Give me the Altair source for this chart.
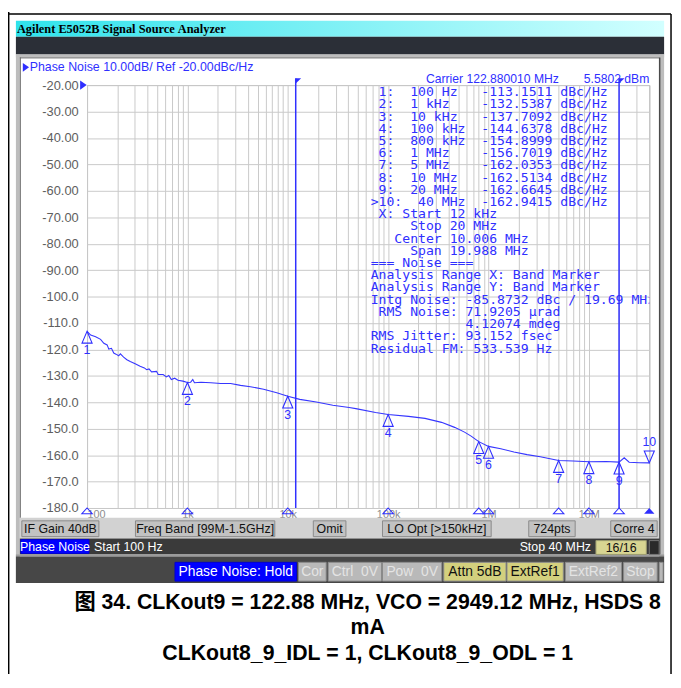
import altair as alt
import pandas as pd

# ---------------- data ----------------
trace_freq_hz = [100, 108.7, 121.8, 136.4, 147.0, 158.5, 164.7, 175.1, 184.5, 194.3,
                 206.6, 214.7, 231.4, 249.4, 269.3, 301.6, 337.9, 372.4, 392.5, 414.3,
                 439.4, 492.2, 511.6, 573.0, 617.5, 652.0, 691.6, 746.9, 805.0, 901.6,
                 1000, 1078, 1131, 1175, 1365, 1712, 2148, 2696, 3381, 4241,
                 5745, 7771, 10000, 13170, 19240, 28090, 40930, 47640, 74960, 100000,
                 159500, 232900, 340100, 459700, 576700, 671300, 800000, 1000000, 1326000, 1791000,
                 2422000, 3281000, 5000000, 6982000, 10000000, 14850000, 20000000, 22500000, 25200000, 31700000,
                 40000000]
trace_dbc = [-113.15, -114.6, -115.2, -116.2, -117.7, -118.3, -119.9, -119.6, -121.4, -121.8,
             -122.4, -121.7, -122.9, -123.9, -124.6, -125.4, -126.4, -127.0, -127.7, -127.4,
             -128.5, -128.3, -129.5, -129.5, -130.4, -129.9, -131.4, -130.9, -131.7, -132.0,
             -132.54, -132.4, -131.4, -132.6, -132.4, -132.6, -132.9, -132.9, -133.6, -134.1,
             -135.1, -136.4, -137.71, -138.9, -139.9, -141.1, -142.0, -142.4, -143.85, -144.64,
             -145.35, -146.1, -147.6, -149.5, -151.3, -152.8, -154.9, -156.7, -157.6, -158.8,
             -159.8, -160.6, -162.04, -162.2, -162.51, -162.4, -162.66, -161.0, -162.7, -162.9,
             -162.94]

marker_id = [1, 2, 3, 4, 5, 6, 7, 8, 9, 10]
marker_freq_hz = [100, 1e3, 1e4, 1e5, 8e5, 1e6, 5e6, 1e7, 2e7, 4e7]
marker_freq_label = ["100 Hz", "1 kHz", "10 kHz", "100 kHz", "800 kHz", "1 MHz",
                     "5 MHz", "10 MHz", "20 MHz", "40 MHz"]
marker_dbc = [-113.1511, -132.5387, -137.7092, -144.6378, -154.8999, -156.7019,
              -162.0353, -162.5134, -162.6645, -162.9415]
active_marker = 10

band_freq_hz = [12e3, 20e6]

y_ticks = [-20, -30, -40, -50, -60, -70, -80, -90, -100, -110, -120, -130, -140, -150, -160, -170, -180]
x_decades = [100, 1000, 10000, 100000, 1000000, 10000000]
x_decade_labels = ["100", "1k", "10k", "100k", "1M", "10M"]

noise_lines = [
    " X: Start 12 kHz",
    "     Stop 20 MHz",
    "   Center 10.006 MHz",
    "     Span 19.988 MHz",
    "=== Noise ===",
    "Analysis Range X: Band Marker",
    "Analysis Range Y: Band Marker",
    "Intg Noise: -85.8732 dBc / 19.69 MHz",
    " RMS Noise: 71.9205 \u00b5rad",
    "            4.12074 mdeg",
    "RMS Jitter: 93.152 fsec",
    "Residual FM: 533.539 Hz",
]

caption_lines = ["图 34. CLKout9 = 122.88 MHz, VCO = 2949.12 MHz, HSDS 8",
                 "mA",
                 "CLKout8_9_IDL = 1, CLKout8_9_ODL = 1"]

# ---------------- styling / layout ----------------
W, H = 569, 428
OX, OY = 88, 82          # page position of the plot origin
BLUE = "#2f2fff"
UI = "Liberation Sans, Arial, sans-serif"
MONO = "DejaVu Sans Mono, monospace"
SERIF = "Liberation Serif, DejaVu Serif, serif"
CAP = "Liberation Sans, 'Noto Sans CJK SC', sans-serif"
NB = "\u00a0"
ZW = "\u200b"

dummy = pd.DataFrame({"a": [0]})


def keep_spaces(s):
    return ZW + s.replace(" ", NB)


def P(x):
    return x - OX


def Q(y):
    return y - OY


def rect(x1, y1, x2, y2, fill, stroke=None, sw=1.0):
    kw = dict(fill=fill)
    if stroke:
        kw.update(stroke=stroke, strokeWidth=sw)
    return alt.Chart(dummy).mark_rect(**kw).encode(
        x=alt.value(P(x1)), x2=alt.value(P(x2)), y=alt.value(Q(y1)), y2=alt.value(Q(y2)))


def hline(x1, x2, y, color="#000000", sw=1.5):
    return alt.Chart(dummy).mark_rule(color=color, strokeWidth=sw).encode(
        x=alt.value(P(x1)), x2=alt.value(P(x2)), y=alt.value(Q(y)))


def vline(x, y1, y2, color="#000000", sw=1.5):
    return alt.Chart(dummy).mark_rule(color=color, strokeWidth=sw).encode(
        x=alt.value(P(x)), y=alt.value(Q(y1)), y2=alt.value(Q(y2)))


def text(x, y, s, size=12, color="#000000", align="left", baseline="middle",
         font=UI, weight="normal"):
    return alt.Chart(dummy).mark_text(align=align, baseline=baseline, fontSize=size, font=font,
                                      fontWeight=weight, color=color).encode(
        x=alt.value(P(x)), y=alt.value(Q(y)), text=alt.value(s.replace(" ", NB)))


def button(x1, x2, y1, y2, s, fill, tcolor, size, stroke="#8a8a8a"):
    return [rect(x1, y1, x2, y2, fill, stroke=stroke, sw=1),
            text((x1 + x2) / 2, (y1 + y2) / 2 + 0.5, s, size=size, color=tcolor, align="center")]


# ---------------- plot layers (scales + axes) ----------------
x_grid = [m * 10 ** e for e in range(2, 8) for m in range(1, 10) if m * 10 ** e <= 4e7]
x_expr = "''"
for v, lab in reversed(list(zip(x_decades, x_decade_labels))):
    x_expr = f"datum.value == {v} ? '{lab}' : ({x_expr})"

xscale = alt.Scale(type="log", domain=[100, 4e7], nice=False)
yscale = alt.Scale(domain=[-180, -20], nice=False, zero=False)

xaxis = alt.Axis(values=x_grid, labelExpr=x_expr, grid=True, gridColor="#c9c9c9", gridWidth=1,
                 ticks=False, domain=False, labelFlush=True, labelOverlap=False, labelPadding=1,
                 labelFont=UI, labelFontSize=11, labelColor="#8c8c8c", title=None)
yaxis = alt.Axis(values=y_ticks,
                 labelExpr="'-' + format(-datum.value, datum.value > -100 ? '.2f' : '.1f')",
                 grid=True, gridColor="#c9c9c9", gridWidth=1, ticks=False, domain=False,
                 labelPadding=9, labelFont=UI, labelFontSize=13, labelColor="#5e5e5e", title=None)

# every layer uses the same scale and axis definitions so that the shared axes merge
mx = alt.X("f:Q", scale=xscale, axis=xaxis)
my = alt.Y("db:Q", scale=yscale, axis=yaxis)

layers = []

trace_df = pd.DataFrame({"f": trace_freq_hz, "db": trace_dbc})
layers.append(alt.Chart(trace_df).mark_line(color="#3636ff", strokeWidth=1.1).encode(x=mx, y=my))

band_df = pd.DataFrame({"f": band_freq_hz})
layers.append(alt.Chart(band_df).mark_rule(color="#3030ff", strokeWidth=1.5).encode(
    x=mx, y=alt.value(-7), y2=alt.value(H)))
layers.append(alt.Chart(band_df).mark_point(shape="M0,0L1.1,0L0,1.1Z", size=100, filled=True,
                                            color="#3030ff", opacity=1).encode(x=mx, y=alt.value(-7)))

mk_df = pd.DataFrame({"id": marker_id, "f": marker_freq_hz, "db": marker_dbc})
mk_normal = mk_df[mk_df["id"] != active_marker]
mk_active = mk_df[mk_df["id"] == active_marker]

up_tri = "M0,0L0.85,2L-0.85,2Z"
down_tri = "M0,0L0.85,-2L-0.85,-2Z"
layers.append(alt.Chart(mk_normal).mark_point(shape=up_tri, size=144, filled=False, color=BLUE,
                                              strokeWidth=1.1, opacity=1).encode(x=mx, y=my))
layers.append(alt.Chart(mk_normal).mark_text(dy=19, color=BLUE, fontSize=12.5, font=UI).encode(
    x=mx, y=my, text="id:N"))
layers.append(alt.Chart(mk_active).mark_point(shape=down_tri, size=144, filled=False, color=BLUE,
                                              strokeWidth=1.1, opacity=1).encode(x=mx, y=my))
layers.append(alt.Chart(mk_active).mark_text(dy=-21, color=BLUE, fontSize=12.5, font=UI).encode(
    x=mx, y=my, text="id:N"))

# marker flags on the frequency axis (plot bottom edge)
axis_tri = "M0,0L1,1.1L-1,1.1Z"
layers.append(alt.Chart(mk_normal).mark_point(shape=axis_tri, size=110, filled=False, color=BLUE,
                                              strokeWidth=1.1, opacity=1).encode(x=mx, y=alt.value(H)))
layers.append(alt.Chart(mk_active).mark_point(shape=axis_tri, size=110, filled=True, color=BLUE,
                                              opacity=1).encode(x=mx, y=alt.value(H)))

# marker table + analysis block (monospaced, one string per line)
table_lines = []
for mid, fl, v in zip(marker_id, marker_freq_label, marker_dbc):
    if mid == active_marker:
        head = f">{mid}:".ljust(6)
    else:
        head = f" {mid}:".ljust(5)
    table_lines.append((head + fl).ljust(14) + f"{v:.4f}" + " dBc/Hz")
all_lines = [keep_spaces(s) for s in table_lines + noise_lines]
layers.append(alt.Chart(dummy).mark_text(align="left", baseline="alphabetic", fontSize=13.3, font=MONO,
                                         color=BLUE, lineHeight=12.35, clip=True).encode(
    x=alt.value(P(375)), y=alt.value(Q(93.3)), text=alt.value(all_lines)))

# ---------------- instrument window chrome ----------------
layers.append(hline(8, 679, 10))
layers.append(vline(8.7, 8, 690))
layers.append(vline(679, 10, 690))

title_grad = alt.Gradient(gradient="linear",
                          stops=[alt.GradientStop(color="#2fe3ec", offset=0),
                                 alt.GradientStop(color="#d2ffff", offset=1)],
                          x1=0, x2=1, y1=0, y2=0)
layers.append(alt.Chart(dummy).mark_rect(color=title_grad).encode(
    x=alt.value(P(16)), x2=alt.value(P(672)), y=alt.value(Q(17)), y2=alt.value(Q(33))))
layers.append(text(17, 25.5, "Agilent E5052B Signal Source Analyzer", size=12.5,
                   font=SERIF, weight="bold"))
layers.append(rect(16, 33, 672, 51, "#2b2f37"))
layers.append(rect(16, 51, 672, 54, "#bdbdbd"))
layers.append(rect(16, 51, 20, 586, "#bdbdbd"))
layers.append(rect(667, 51, 672, 586, "#bdbdbd"))
layers.append(hline(20, 667, 54.5, color="#6a6a6a", sw=1))
layers.append(vline(20.5, 54, 520, color="#6a6a6a", sw=1))
layers.append(vline(667.5, 54, 557, color="#4a4a4a", sw=1.5))
layers.append(rect(20, 520, 667, 541, "#d2d2d2"))
layers.append(rect(20, 541, 667, 557, "#3a3a3a"))
layers.append(rect(16, 557, 672, 559, "#9a9a9a"))
layers.append(rect(16, 559, 672, 586, "#474747"))

for (x1, x2, s) in [(22, 100, "IF Gain 40dB"), (137, 278, "Freq Band [99M-1.5GHz]"),
                    (317, 350, "Omit"), (387, 497, "LO Opt [>150kHz]"),
                    (535, 582, "724pts"), (618, 665, "Corre 4")]:
    layers += button(x1, x2, 523, 539, s, "#c2c2c2", "#111111", 12.5)

layers += button(21, 90, 542, 556, "Phase Noise", "#0000ff", "#ffffff", 12.5, stroke="#0000cc")
layers.append(text(95, 549.5, "Start 100 Hz", size=12.5, color="#ffffff"))
layers.append(text(598, 549.5, "Stop 40 MHz", size=12.5, color="#ffffff", align="right"))
layers += button(603, 654, 543, 557, "16/16", "#d8d592", "#111111", 12.5, stroke="#9a9a70")
layers.append(rect(657, 543, 667, 557, "#2a2a2a", stroke="#777777", sw=1))

layers += button(177, 300, 565, 584, "Phase Noise: Hold", "#0000ff", "#ffffff", 14, stroke="#0000cc")
for (x1, x2, s) in [(302, 330, "Cor"), (332, 386, "Ctrl  0V"), (387, 447, "Pow  0V")]:
    layers += button(x1, x2, 565, 584, s, "#b9b9b9", "#e4e4e4", 14)
for (x1, x2, s) in [(449, 512, "Attn 5dB"), (513, 570, "ExtRef1")]:
    layers += button(x1, x2, 565, 584, s, "#d3d07e", "#111111", 14)
for (x1, x2, s) in [(572, 629, "ExtRef2"), (631, 665, "Stop")]:
    layers += button(x1, x2, 565, 584, s, "#b9b9b9", "#e4e4e4", 14)
layers.append(rect(667, 565, 671, 584, "#b9b9b9", stroke="#8a8a8a", sw=1))

# header texts
tri_right = "M0,-1.4L2,0L0,1.4Z"
layers.append(alt.Chart(dummy).mark_point(shape=tri_right, size=40, filled=True, color=BLUE, opacity=1).encode(
    x=alt.value(P(23)), y=alt.value(Q(64))))
layers.append(text(30, 64, "Phase Noise 10.00dB/ Ref -20.00dBc/Hz", size=12.5, color=BLUE))
layers.append(text(431, 76, "Carrier 122.880010 MHz", size=12.3, color=BLUE))
layers.append(text(657, 76, "5.5802 dBm", size=12.3, color=BLUE, align="right"))
layers.append(alt.Chart(dummy).mark_point(shape=tri_right, size=44, filled=True, color=BLUE, opacity=1).encode(
    x=alt.value(-7), y=alt.value(0)))

# caption
for i, s in enumerate(caption_lines):
    layers.append(text(372, [612, 638, 664][i], s, size=21.5, font=CAP, weight="bold",
                       align="center", baseline="alphabetic"))

chart = alt.layer(*layers).properties(
    width=W, height=H,
    padding={"left": 80, "top": 74, "right": 24, "bottom": 164},
    autosize=alt.AutoSizeParams(type="none"),
    background="white",
).configure_view(stroke="#a6a6a6", strokeWidth=1)

chart.save("out.html", embed_options={"renderer": "svg", "actions": False})
